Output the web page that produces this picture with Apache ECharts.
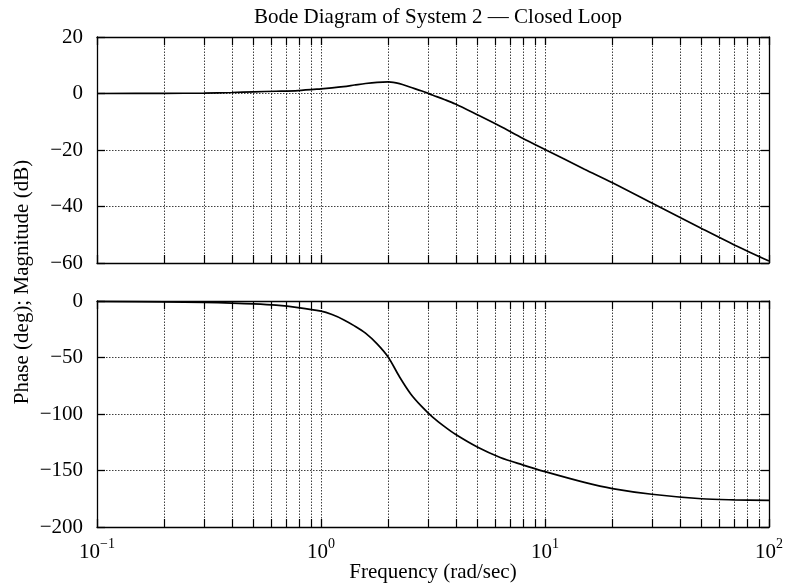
<!DOCTYPE html>
<html>
<head>
<meta charset="utf-8">
<script src="https://cdn.jsdelivr.net/npm/echarts@6/dist/echarts.min.js"></script>
<style>
html,body{margin:0;padding:0;background:#fff;}
#chart{width:787px;height:584px;}
</style>
</head>
<body>
<div id="chart"></div>
<script>
// ---- data ----
const freq = [0.1,0.2,0.3,0.4,0.5,0.63,0.79,1,1.12,1.26,1.41,1.58,1.78,2,2.24,2.51,2.82,3.16,3.55,3.98,5.01,6.31,7.94,10,15,20,30,50,70,100];
const magDb = [0,0.05,0.15,0.35,0.6,0.8,1.05,1.65,2.0,2.45,3.0,3.55,3.95,4.1,3.5,2.2,0.9,-0.6,-2.1,-3.7,-7.6,-11.6,-15.8,-19.8,-26.8,-31.6,-38.8,-47.8,-53.6,-59.3];
const phaseDeg = [-0.3,-0.7,-1.2,-1.8,-2.5,-3.7,-5.8,-9,-12,-16.5,-22,-28.5,-38,-50,-67,-82,-93.5,-103,-111,-118,-129.5,-138.5,-145,-151,-160.5,-166,-171,-175,-176,-176.5];
const minorFreqs = [0.2,0.3,0.4,0.5,0.6,0.7,0.8,0.9,2,3,4,5,6,7,8,9,20,30,40,50,60,70,80,90];
const magTicks = {min:-60, max:20, interval:20};
const phaseTicks = {min:-200, max:0, interval:50};
const titleText = 'Bode Diagram of System 2 \u2014 Closed Loop';
const xName = 'Frequency (rad/sec)';
const yName = 'Phase (deg); Magnitude (dB)';

const FONT = '"Liberation Serif", "DejaVu Serif", serif';
const FS = 21;
const GRID_H = 226;
const TICK_PX = 8;
const chart = echarts.init(document.getElementById('chart'), null, {renderer:'canvas'});

const dotted = {color:'#000', width:1, type:[1.5,1.5], opacity:0.75};

// minor vertical grid lines (dotted) + short inward minor ticks at top & bottom edges
function minorMarks(t){
  const len = (t.max - t.min) * TICK_PX / GRID_H;
  const lines = minorFreqs.map(v => ({xAxis:v}));
  const ticks = [];
  minorFreqs.forEach(v => {
    ticks.push([{coord:[v, t.max], lineStyle:{type:'solid', width:1.2, opacity:1}}, {coord:[v, t.max - len]}]);
    ticks.push([{coord:[v, t.min], lineStyle:{type:'solid', width:1.2, opacity:1}}, {coord:[v, t.min + len]}]);
  });
  return {
    silent:true, symbol:'none', label:{show:false},
    lineStyle:dotted, animation:false,
    data: lines.concat(ticks)
  };
}

function xAxisCfg(gridIndex, showLabels, pos){
  return {
    type:'log', logBase:10, min:0.1, max:100, gridIndex, position:pos,
    axisLine:{show:true, onZero:false, lineStyle:{color:'#000', width:1.3}},
    axisTick:{show:true, inside:true, length:TICK_PX, lineStyle:{color:'#000', width:1.3}},
    splitLine:{show: pos==='bottom', lineStyle:dotted},
    axisLabel:{
      show:showLabels, margin:10, fontFamily:FONT, color:'#000',
      formatter: v => {
        const e = Math.round(Math.log10(v));
        const s = e < 0 ? '\u2212' + (-e) : String(e);
        return '{b|10}{s|' + s + '}';
      },
      rich:{
        b:{fontFamily:FONT, fontSize:FS, color:'#000', lineHeight:26, verticalAlign:'bottom'},
        s:{fontFamily:FONT, fontSize:14, color:'#000', lineHeight:26, verticalAlign:'top'}
      }
    }
  };
}
function yAxisCfg(gridIndex, t, pos){
  return {
    type:'value', gridIndex, position:pos, min:t.min, max:t.max, interval:t.interval,
    axisLine:{show:true, onZero:false, lineStyle:{color:'#000', width:1.3}},
    axisTick:{show:true, inside:true, length:TICK_PX, lineStyle:{color:'#000', width:1.3}},
    splitLine:{show: pos==='left', lineStyle:dotted},
    axisLabel:{show: pos==='left', margin:14, fontFamily:FONT, fontSize:FS, color:'#000',
      formatter: v => (v < 0 ? '\u2212' + (-v) : String(v))}
  };
}

chart.setOption({
  animation:false,
  backgroundColor:'#fff',
  title:{text:titleText, left:433, top:2, textAlign:'center',
    textStyle:{fontFamily:FONT, fontSize:FS, fontWeight:'normal', color:'#000'}},
  grid:[
    {left:97, right:18, top:37, height:GRID_H, show:false},
    {left:97, right:18, top:301, height:GRID_H, show:false}
  ],
  xAxis:[
    xAxisCfg(0,false,'bottom'), xAxisCfg(0,false,'top'),
    xAxisCfg(1,true,'bottom'), xAxisCfg(1,false,'top')
  ],
  yAxis:[
    yAxisCfg(0,magTicks,'left'), yAxisCfg(0,magTicks,'right'),
    yAxisCfg(1,phaseTicks,'left'), yAxisCfg(1,phaseTicks,'right')
  ],
  series:[
    {type:'line', xAxisIndex:0, yAxisIndex:0, showSymbol:false, smooth:0.3,
     data: freq.map((f,i)=>[f, magDb[i]]),
     lineStyle:{color:'#000', width:1.7}, markLine:minorMarks(magTicks), z:5},
    {type:'line', xAxisIndex:2, yAxisIndex:2, showSymbol:false, smooth:0.3,
     data: freq.map((f,i)=>[f, phaseDeg[i]]),
     lineStyle:{color:'#000', width:1.7}, markLine:minorMarks(phaseTicks), z:5}
  ],
  graphic:[
    {type:'text', x:433, y:572, style:{text:xName, font:FS + 'px ' + FONT, fill:'#000', align:'center', verticalAlign:'middle'}},
    {type:'text', x:22, y:282, rotation:Math.PI/2, style:{text:yName, font:FS + 'px ' + FONT, fill:'#000', align:'center', verticalAlign:'middle'}}
  ]
});
</script>
</body>
</html>
